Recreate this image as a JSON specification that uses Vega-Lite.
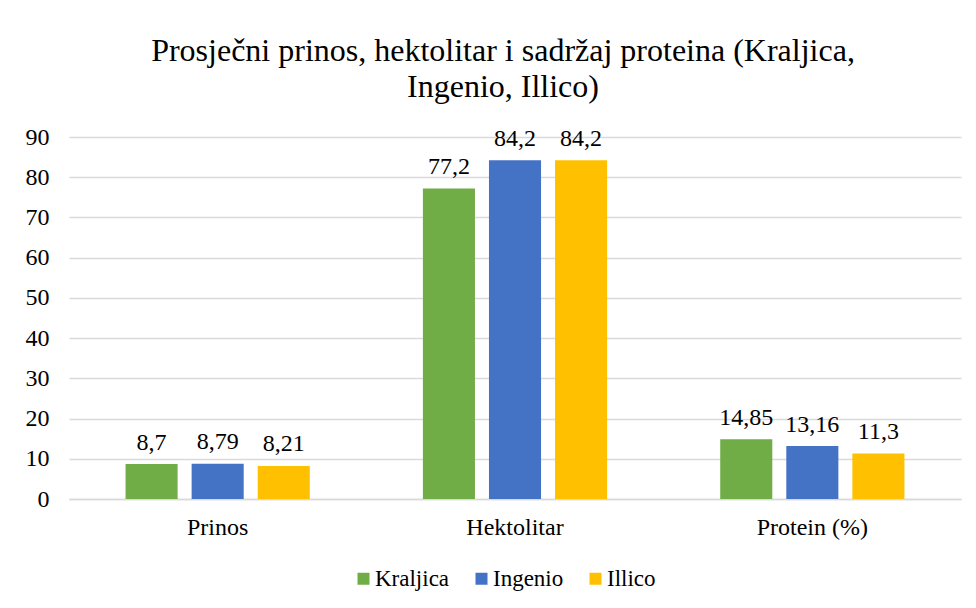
{
  "$schema": "https://vega.github.io/schema/vega-lite/v6.json",
  "width": 892,
  "height": 362,
  "autosize": {"type": "none"},
  "padding": {"left": 69, "top": 137, "right": 15, "bottom": 109},
  "background": "white",
  "config": {
    "locale": {"number": {"decimal": ",", "thousands": ".", "grouping": [3], "currency": ["", " €"]}},
    "font": "Liberation Serif",
    "view": {"stroke": null}
  },
  "title": {
    "text": ["Prosječni prinos, hektolitar i sadržaj proteina (Kraljica,", "Ingenio, Illico)"],
    "font": "Liberation Serif",
    "fontSize": 32,
    "fontWeight": "normal",
    "color": "#000000",
    "anchor": "middle",
    "frame": "group",
    "offset": 21,
    "dx": -12,
    "lineHeight": 36
  },
  "data": {
    "values": [
      {"kategorija": "Prinos", "sorta": "Kraljica", "vrijednost": 8.7},
      {"kategorija": "Prinos", "sorta": "Ingenio", "vrijednost": 8.79},
      {"kategorija": "Prinos", "sorta": "Illico", "vrijednost": 8.21},
      {"kategorija": "Hektolitar", "sorta": "Kraljica", "vrijednost": 77.2},
      {"kategorija": "Hektolitar", "sorta": "Ingenio", "vrijednost": 84.2},
      {"kategorija": "Hektolitar", "sorta": "Illico", "vrijednost": 84.2},
      {"kategorija": "Protein (%)", "sorta": "Kraljica", "vrijednost": 14.85},
      {"kategorija": "Protein (%)", "sorta": "Ingenio", "vrijednost": 13.16},
      {"kategorija": "Protein (%)", "sorta": "Illico", "vrijednost": 11.3}
    ]
  },
  "encoding": {
    "x": {
      "field": "kategorija",
      "type": "nominal",
      "sort": ["Prinos", "Hektolitar", "Protein (%)"],
      "scale": {"paddingInner": 0, "paddingOuter": 0},
      "axis": {
        "title": null,
        "labelAngle": 0,
        "labelFont": "Liberation Serif",
        "labelFontSize": 24,
        "labelColor": "#000000",
        "labelPadding": 16,
        "ticks": false,
        "domainColor": "#d9d9d9",
        "domainWidth": 1.5
      }
    },
    "xOffset": {
      "field": "sorta",
      "type": "nominal",
      "sort": ["Kraljica", "Ingenio", "Illico"],
      "scale": {"paddingInner": 0.212, "paddingOuter": 0.856}
    },
    "y": {
      "field": "vrijednost",
      "type": "quantitative",
      "scale": {"domain": [0, 90], "nice": false},
      "axis": {
        "title": null,
        "values": [0, 10, 20, 30, 40, 50, 60, 70, 80, 90],
        "labelFont": "Liberation Serif",
        "labelFontSize": 24,
        "labelColor": "#000000",
        "labelPadding": 20,
        "ticks": false,
        "domain": false,
        "gridColor": "#d9d9d9",
        "gridWidth": 1.5,
        "format": "d"
      }
    },
    "color": {
      "field": "sorta",
      "type": "nominal",
      "sort": ["Kraljica", "Ingenio", "Illico"],
      "scale": {"domain": ["Kraljica", "Ingenio", "Illico"], "range": ["#70AD47", "#4472C4", "#FFC000"]},
      "legend": {
        "title": null,
        "orient": "none",
        "direction": "horizontal",
        "legendX": 283,
        "legendY": 430,
        "symbolType": "square",
        "symbolSize": 144,
        "symbolStrokeWidth": 0,
        "symbolOpacity": 1,
        "labelFont": "Liberation Serif",
        "labelFontSize": 23,
        "labelColor": "#000000",
        "labelOffset": 0,
        "columnPadding": 20
      }
    }
  },
  "layer": [
    {"mark": {"type": "bar"}},
    {
      "mark": {"type": "text", "baseline": "alphabetic", "dy": -14.5, "font": "Liberation Serif", "fontSize": 24, "color": "#000000"},
      "encoding": {
        "text": {"field": "vrijednost", "type": "quantitative", "format": "~g"},
        "color": {"value": "#000000"}
      }
    }
  ]
}
